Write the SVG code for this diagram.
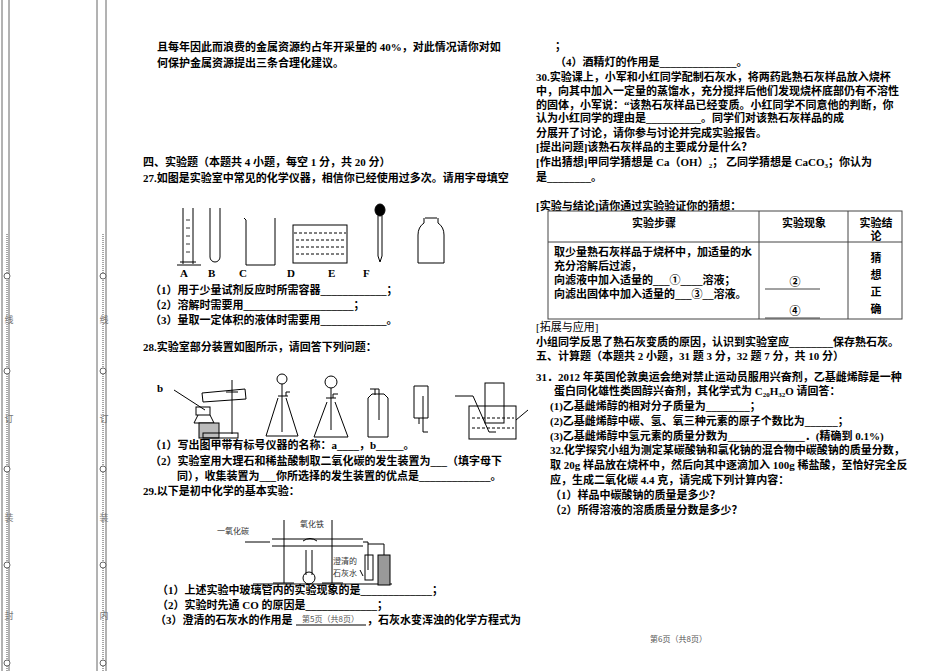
<svg xmlns="http://www.w3.org/2000/svg" width="950" height="671" viewBox="0 0 950 671">
<style>
.t{font-family:"Liberation Serif","Noto Sans CJK SC",serif;font-size:11px;font-weight:bold;fill:#000}
.s{font-family:"Noto Sans CJK SC",sans-serif;font-size:8px;fill:#555}
.m{font-family:"Noto Sans CJK SC",sans-serif;font-size:9px;fill:#777}
.d{fill:none;stroke:#000;stroke-width:1}
.g{fill:none;stroke:#666;stroke-width:1}
.dot{stroke:#888;stroke-width:1.5;stroke-dasharray:1,1}
</style>
<rect width="950" height="671" fill="#fff"/>
<g id="margin">
<line x1="2" y1="0" x2="2" y2="671" class="g"/><line x1="9" y1="0" x2="9" y2="671" class="g"/>
<line x1="97" y1="0" x2="97" y2="671" class="g"/><line x1="106" y1="0" x2="106" y2="671" class="g"/>
<line x1="7" y1="234" x2="7" y2="671" class="dot"/><line x1="103" y1="234" x2="103" y2="671" class="dot"/>
<g fill="#fff" stroke="#666"><circle cx="7" cy="276" r="3"/><circle cx="7" cy="371" r="3"/><circle cx="7" cy="469" r="3"/><circle cx="7" cy="565" r="3"/><circle cx="7" cy="663" r="3"/>
<circle cx="103" cy="276" r="3"/><circle cx="103" cy="371" r="3"/><circle cx="103" cy="469" r="3"/><circle cx="103" cy="565" r="3"/><circle cx="103" cy="663" r="3"/></g>
<g class="m" text-anchor="middle"><text x="9" y="323">线</text><text x="9" y="422">订</text><text x="9" y="521">装</text><text x="9" y="619">封</text>
<text x="104" y="323">线</text><text x="104" y="422">订</text><text x="104" y="521">装</text><text x="104" y="619">内</text></g>
</g>
<g id="left" class="t">
<text x="157" y="51">且每年因此而浪费的金属资源约占年开采量的 40%，对此情况请你对如</text>
<text x="157" y="67">何保护金属资源提出三条合理化建议。</text>
<text x="143" y="166">四、实验题（本题共 4 小题，每空 1 分，共 20 分）</text>
<text x="143" y="182">27.如图是实验室中常见的化学仪器，相信你已经使用过多次。请用字母填空</text>
<text x="180" y="277">A</text><text x="208" y="277">B</text><text x="239" y="277">C</text><text x="287" y="277">D</text><text x="328" y="277">E</text><text x="363" y="277">F</text>
<text x="150" y="294">（1）用于少量试剂反应时所需容器____________；</text>
<text x="150" y="309">（2）溶解时需要用____________________；</text>
<text x="150" y="324">（3）量取一定体积的液体时需要用____________。</text>
<text x="143" y="351">28.实验室部分装置如图所示，请回答下列问题：</text>
<text x="157" y="392">b</text>
<text x="150" y="449">（1）写出图甲带有标号仪器的名称：a____，b_____。</text>
<text x="150" y="465">（2）实验室用大理石和稀盐酸制取二氧化碳的发生装置为___（填字母下</text>
<text x="177" y="480">同），收集装置为___你所选择的发生装置的优点是_____________。</text>
<text x="143" y="495">29.以下是初中化学的基本实验：</text>
<text x="157" y="594">（1）上述实验中玻璃管内的实验现象的是_____________；</text>
<text x="157" y="609">（2）实验时先通 CO 的原因是_____________；</text>
<text x="155" y="624">（3）澄清的石灰水的作用是</text>
<text x="367" y="624">，石灰水变浑浊的化学方程式为</text>
</g>
<line x1="296" y1="625" x2="366" y2="625" stroke="#000" stroke-width="1"/>
<text class="s" x="302" y="622">第5页（共8页）</text>
<g id="instruments27" class="d">
<path d="M183,208 V264 M193,208 V264 M177,265 H201 M180,262 H196"/><path d="M186,220 H190 M186,228 H190 M186,236 H190 M186,244 H190 M186,252 H190" stroke-width="0.8"/>
<path d="M210,208 V257 A5,5 0 0 0 220,257 V208"/>
<path d="M244,218 L246,220 V265 H275 V218"/>
<rect x="293" y="225" width="54" height="38"/><path d="M294,233 H346 M296,240 H344 M296,247 H344 M296,254 H344" stroke-dasharray="3,2"/>
<ellipse cx="380" cy="210" rx="5" ry="6" fill="#000"/><path d="M378,216 V256 L380,262 L382,256 V216"/>
<path d="M425,218 H437 M424,218 V223 Q418,227 418,235 V263 H444 V235 Q444,227 438,223 V218"/>
</g>
<g id="apparatus28" class="d">
<line x1="174" y1="390" x2="205" y2="410"/>
<rect x="196" y="407" width="14" height="8"/><path d="M198,415 L194,423 H214 L210,415"/><rect x="199" y="423" width="20" height="15" fill="#bbb"/>
<rect x="203" y="433" width="35" height="5"/><line x1="232" y1="380" x2="232" y2="434"/>
<path d="M202,393 L245,389 L246,399 L203,402 Z"/><line x1="226" y1="392" x2="238" y2="392"/>
<circle cx="282" cy="379" r="5"/><path d="M282,384 V432 M278,396 H288 M286,396 V392 H290"/><path d="M278,398 L266,436 H298 L286,398"/>
<circle cx="331" cy="382" r="6"/><path d="M331,388 V430 M326,398 H336 M333,398 V394 H338"/><path d="M327,402 L314,437 H348 L335,402"/>
<path d="M370,389 H379 V420 M375,389 V395 M368,398 V437 H388 V398 L384,394 H372 Z"/>
<path d="M414,386 H428 V418 H414 Z M423,396 V432 H428 M419,418 V424"/><text x="402" y="386" style="font-size:6px;stroke:none">a</text>
<path d="M455,396 L473,396 L489,432 H496"/><rect x="469" y="406" width="47" height="33"/><rect x="485" y="383" width="19" height="40"/>
<path d="M472,418 H514 M472,428 H514" stroke-dasharray="3,2"/><line x1="516" y1="420" x2="528" y2="410"/>
<text x="530" y="414" style="font-size:7px;stroke:none">水</text>
</g>
<g id="apparatus29" class="d">
<path d="M284,520 V583 M332,520 V583 M273,583 H294 M322,583 H343 M253,584 H392"/>
<path d="M272,539 H363 M272,546 H363"/><path d="M245,542 H270" /><path d="M363,542 H368 V570 M368,544 H384 V575"/>
<path d="M303,541 Q310,536 317,541"/><path d="M306,550 V575 M312,550 V575"/><circle cx="309" cy="578" r="6"/>
<rect x="365" y="555" width="8" height="25"/><rect x="378" y="555" width="12" height="30" fill="#999"/>
<line x1="363" y1="576" x2="360" y2="570"/>
</g>
<g class="s" style="font-size:8px;fill:#333">
<text x="217" y="534">一氧化碳</text><text x="300" y="527">氧化铁</text><text x="333" y="564">澄清的</text><text x="333" y="576">石灰水</text>
</g>
<g id="right" class="t">
<text x="555" y="50">；</text>
<text x="555" y="66">（4）酒精灯的作用是______________。</text>
<text x="536" y="81">30.实验课上，小军和小红同学配制石灰水，将两药匙熟石灰样品放入烧杯</text>
<text x="536" y="95">中，向其中加入一定量的蒸馏水，充分搅拌后他们发现烧杯底部仍有不溶性</text>
<text x="536" y="109">的固体，小军说：“该熟石灰样品已经变质。小红同学不同意他的判断，你</text>
<text x="536" y="122">认为小红同学的理由是__________。同学们对该熟石灰样品的成</text>
<text x="536" y="137">分展开了讨论，请你参与讨论并完成实验报告。</text>
<text x="536" y="151">[提出问题]该熟石灰样品的主要成分是什么？</text>
<text x="536" y="166">[作出猜想]甲同学猜想是 Ca（OH）<tspan font-size="7" dy="2">2</tspan><tspan dy="-2">；  乙同学猜想是 CaCO</tspan><tspan font-size="7" dy="2">3</tspan><tspan dy="-2">；你认为</tspan></text>
<text x="536" y="181">是________。</text>
<text x="536" y="210">[实验与结论]请你通过实验验证你的猜想：</text>
<text x="654" y="227" text-anchor="middle">实验步骤</text><text x="804" y="227" text-anchor="middle">实验现象</text>
<text x="876" y="227" text-anchor="middle">实验结</text><text x="876" y="240" text-anchor="middle">论</text>
<text x="554" y="256">取少量熟石灰样品于烧杯中，加适量的水</text>
<text x="554" y="270">充分溶解后过滤，</text>
<text x="554" y="284">向滤液中加入适量的___①____溶液；</text>
<text x="554" y="298">向滤出固体中加入适量的___③__溶液。</text>
<text x="795" y="286" text-anchor="middle">②</text><text x="795" y="315" text-anchor="middle">④</text>
<text x="876" y="262" text-anchor="middle">猜</text><text x="876" y="279" text-anchor="middle">想</text><text x="876" y="296" text-anchor="middle">正</text><text x="876" y="313" text-anchor="middle">确</text>
<text x="536" y="331" style="font-weight:normal">[拓展与应用]</text>
<text x="536" y="346">小组同学反思了熟石灰变质的原因，认识到实验室应________保存熟石灰。</text>
<text x="536" y="360">五、计算题（本题共 2 小题，31 题 3 分，32 题 7 分，共 10 分）</text>
<text x="536" y="381">31．2012 年英国伦敦奥运会绝对禁止运动员服用兴奋剂，乙基雌烯醇是一种</text>
<text x="554" y="395">蛋白同化雄性类固醇兴奋剂，其化学式为 C<tspan font-size="7" dy="2">20</tspan><tspan dy="-2">H</tspan><tspan font-size="7" dy="2">32</tspan><tspan dy="-2">O 请回答：</tspan></text>
<text x="550" y="410">(1)乙基雌烯醇的相对分子质量为________；</text>
<text x="550" y="425">(2)乙基雌烯醇中碳、氢、氧三种元素的原子个数比为______；</text>
<text x="550" y="440">(3)乙基雌烯醇中氢元素的质量分数为______________．(精确到 0.1%)</text>
<text x="550" y="454">32.化学探究小组为测定某碳酸钠和氯化钠的混合物中碳酸钠的质量分数，</text>
<text x="550" y="469">取 20g 样品放在烧杯中，然后向其中逐滴加入 100g 稀盐酸，至恰好完全反</text>
<text x="550" y="484">应，生成二氧化碳 4.4 克，请完成下列计算内容：</text>
<text x="550" y="499">（1）样品中碳酸钠的质量是多少？</text>
<text x="550" y="514">（2）所得溶液的溶质质量分数是多少？</text>
</g>
<g id="table" fill="none" stroke="#444" stroke-width="1">
<rect x="548" y="211" width="354" height="108"/>
<line x1="548" y1="242" x2="902" y2="242"/><line x1="759" y1="211" x2="759" y2="319"/><line x1="848" y1="211" x2="848" y2="319"/>
<line x1="765" y1="289" x2="820" y2="289"/><line x1="765" y1="318" x2="820" y2="318"/>
</g>
<text class="s" x="650" y="642">第6页（共8页）</text>
</svg>
